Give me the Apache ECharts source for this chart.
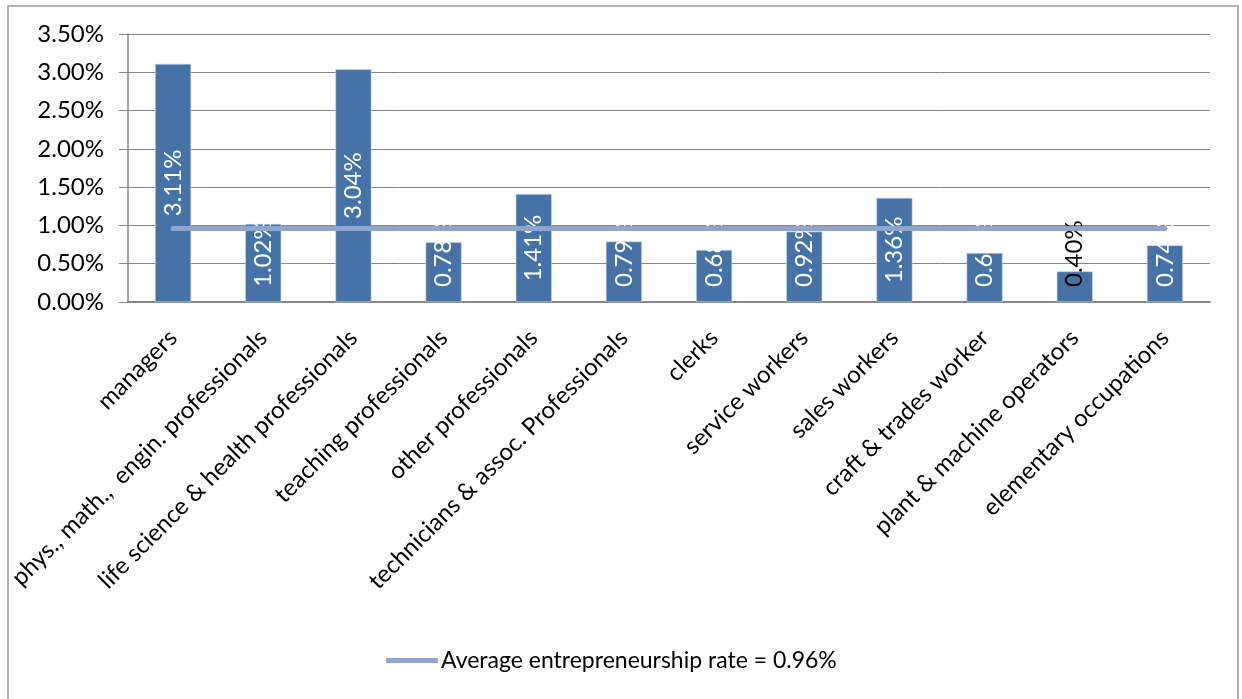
<!DOCTYPE html>
<html>
<head>
<meta charset="utf-8">
<script src="https://cdn.jsdelivr.net/npm/echarts@6/dist/echarts.min.js"></script>
<style>
  html, body { margin: 0; padding: 0; background: #fff; }
  #chart { width: 1242px; height: 699px; }
</style>
</head>
<body>
<div id="chart"></div>
<script>
// occupations and their entrepreneurship rates (%)
var occupations = ['managers', 'phys., math.,  engin. professionals', 'life science & health professionals',
  'teaching professionals', 'other professionals', 'technicians & assoc. Professionals', 'clerks',
  'service workers', 'sales workers', 'craft & trades worker', 'plant & machine operators', 'elementary occupations']
var rates = [3.11, 1.02, 3.04, 0.78, 1.41, 0.79, 0.68, 0.92, 1.36, 0.64, 0.40, 0.74]
var averageRate = 0.96
var yTicks = [0, 0.5, 1, 1.5, 2, 2.5, 3, 3.5]

var myChart = echarts.init(document.querySelector('#chart'))

// bars: tall ones get a centered label, short ones sit near the bottom
var barData = rates.map(function (v) {
  var lbl = v >= 1.2
    ? { position: 'inside', align: 'center', verticalAlign: 'middle' }
    : { position: 'insideBottom', distance: 15, align: 'left', verticalAlign: 'middle' }
  if (v < 0.5) lbl.color = '#000'
  return { value: v, label: lbl }
})
var avgData = occupations.map(function () { return averageRate })

myChart.setOption({
  animation: false,
  textStyle: { fontFamily: 'Lato' },
  grid: { left: 128, right: 32, top: 34, bottom: 397 },
  graphic: [{
    type: 'rect',
    shape: { x: 8, y: 6, width: 1230, height: 700 },
    style: { fill: 'none', stroke: '#9a9a9a', lineWidth: 1.5 },
    silent: true
  }],
  legend: {
    bottom: 22,
    left: 381,
    itemWidth: 52,
    itemHeight: 5,
    itemGap: 6,
    textStyle: { fontFamily: 'Lato', fontSize: 23, color: '#000', padding: [0, 0, 0, -2] },
    data: [{ name: 'Average entrepreneurship rate = 0.96%', icon: 'roundRect', itemStyle: { color: '#8ea6ce' } }]
  },
  xAxis: {
    type: 'category',
    data: occupations,
    boundaryGap: true,
    axisLine: { lineStyle: { color: '#868686', width: 2 } },
    axisTick: { length: 7, lineStyle: { color: '#868686', width: 1.5 } },
    axisLabel: {
      interval: 0,
      rotate: 45,
      margin: 32,
      fontFamily: 'Lato',
      fontSize: 24,
      color: '#000'
    }
  },
  yAxis: {
    type: 'value',
    min: yTicks[0],
    max: yTicks[yTicks.length - 1],
    interval: 0.5,
    axisLine: { show: true, lineStyle: { color: '#868686', width: 1.5 } },
    axisTick: { show: true, length: 9, lineStyle: { color: '#868686' } },
    splitLine: { lineStyle: { color: '#868686', width: 1 } },
    axisLabel: {
      margin: 24,
      fontFamily: 'Lato',
      fontSize: 24,
      color: '#000',
      formatter: function (v) { return v.toFixed(2) + '%' }
    }
  },
  series: [
    {
      name: 'rate',
      type: 'bar',
      z: 2,
      barWidth: '40%',
      data: barData,
      itemStyle: { color: '#4673a7', borderColor: '#c9d6e8', borderWidth: 0.6 },
      label: {
        show: true,
        rotate: 90,
        color: '#fff',
        fontFamily: 'Lato',
        fontSize: 24,
        formatter: function (p) { return p.value.toFixed(2) + '%' }
      }
    },
    {
      name: 'Average entrepreneurship rate = 0.96%',
      type: 'line',
      z: 5,
      data: avgData,
      symbol: 'none',
      color: '#8ea6ce',
      lineStyle: { color: '#8ea6ce', width: 5, cap: 'round' }
    }
  ]
})
</script>
</body>
</html>
